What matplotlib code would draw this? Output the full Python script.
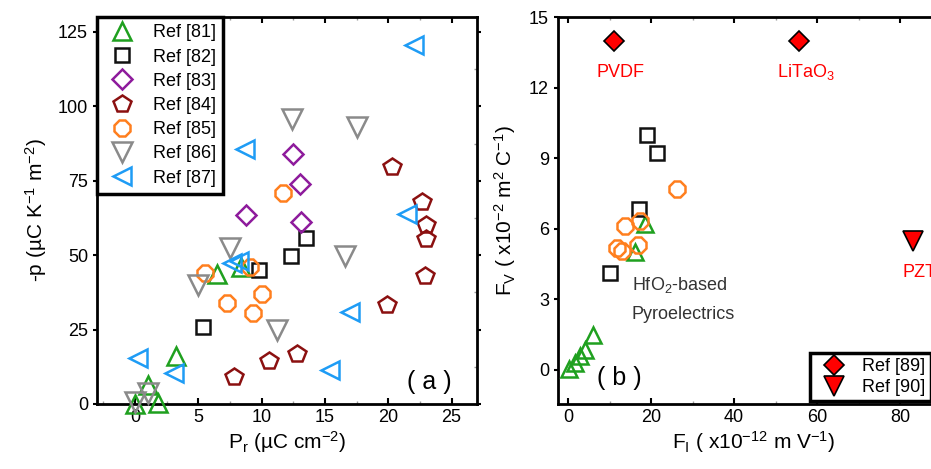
import matplotlib.pyplot as plt
from matplotlib.ticker import AutoMinorLocator

plt.rcParams['font.family'] = ['Liberation Sans', 'DejaVu Sans']
plt.rcParams['mathtext.fontset'] = 'custom'
plt.rcParams['mathtext.rm'] = 'Liberation Sans'
plt.rcParams['mathtext.it'] = 'Liberation Sans:italic'

# panel (a): Pr vs -p for each reference
refLabels = ['Ref [81]', 'Ref [82]', 'Ref [83]', 'Ref [84]', 'Ref [85]', 'Ref [86]', 'Ref [87]']
prRef81 = [0.0, 1.0, 1.8, 3.2, 6.5, 8.4]
pRef81 = [0.0, 6.5, 0.5, 16.0, 43.6, 46.0]
prRef82 = [5.4, 9.8, 12.3, 13.5]
pRef82 = [26.0, 45.0, 49.7, 55.7]
prRef83 = [8.8, 12.5, 13.0, 13.1]
pRef83 = [63.4, 84.0, 73.8, 61.0]
prRef84 = [7.8, 10.6, 12.8, 19.9, 20.3, 22.7, 23.0, 23.0, 22.9]
pRef84 = [9.0, 14.5, 16.8, 33.2, 79.5, 67.8, 60.0, 55.3, 43.0]
prRef85 = [5.5, 7.3, 9.1, 9.3, 10.0, 11.7]
pRef85 = [44.0, 34.0, 46.0, 30.5, 37.0, 71.0]
prRef86 = [0.0, 1.0, 5.0, 7.5, 11.2, 12.4, 16.6, 17.5]
pRef86 = [0.7, 3.7, 40.0, 52.3, 24.8, 95.6, 49.7, 93.0]
prRef87 = [0.2, 3.1, 7.7, 8.2, 8.7, 15.4, 17.0, 21.5, 22.0]
pRef87 = [15.4, 10.4, 47.3, 48.0, 85.6, 11.4, 31.0, 63.8, 120.5]

# panel (b): FI vs FV
fiRef81 = [0.2, 1.8, 3.0, 4.2, 6.0, 16.1, 18.5]
fvRef81 = [0.05, 0.3, 0.6, 0.85, 1.5, 5.0, 6.2]
fiRef82 = [10.1, 17.1, 19.0, 21.4]
fvRef82 = [4.1, 6.85, 10.0, 9.23]
fiRef85 = [11.8, 13.0, 13.7, 16.9, 17.3, 26.3]
fvRef85 = [5.2, 5.05, 6.1, 5.3, 6.34, 7.7]
fiRef89 = [11.1, 55.7]
fvRef89 = [14.0, 14.0]
fiRef90 = [83.1]
fvRef90 = [5.5]
bulkNames = ['PVDF', 'LiTaO$_3$', 'PZT']

MARKERS = ['^', 's', 'D', 'p', '8', 'v', '<']
COLORS = ['#1fa01f', '#111111', '#8e1b9c', '#8b1010', '#ff7f1e', '#8a8a8a', '#1e9cf5']
SIZES = [13, 10, 10.5, 13, 12, 14, 13]

fig = plt.figure(figsize=(9.31, 4.69), dpi=100)
axA = fig.add_axes([0.1042, 0.1386, 0.408, 0.825])
axB = fig.add_axes([0.5994, 0.1386, 0.421, 0.825])

seriesA = [(prRef81, pRef81), (prRef82, pRef82), (prRef83, pRef83), (prRef84, pRef84),
           (prRef85, pRef85), (prRef86, pRef86), (prRef87, pRef87)]
for i, (xs, ys) in enumerate(seriesA):
    axA.plot(xs, ys, linestyle='none', marker=MARKERS[i], markersize=SIZES[i],
             markerfacecolor='none', markeredgecolor=COLORS[i], markeredgewidth=1.8,
             label=refLabels[i], clip_on=False, zorder=3)

axA.set_xlim(-3, 27)
axA.set_ylim(0, 130)
axA.set_xticks(range(0, 26, 5))
axA.set_yticks(range(0, 126, 25))
axA.set_xlabel('P$_\\mathrm{r}$ (µC cm$^{-2}$)', fontsize=15, labelpad=2)
axA.set_ylabel('-p (µC K$^{-1}$ m$^{-2}$)', fontsize=15, labelpad=6)
axA.text(0.876, 0.057, '( a )', transform=axA.transAxes, fontsize=18, ha='center', va='center')
legA = axA.legend(loc='upper left', borderaxespad=0, fontsize=13, handletextpad=0.7,
                  labelspacing=0.4, fancybox=False, framealpha=1, borderpad=0.4)
legA.get_frame().set_edgecolor('black')
legA.get_frame().set_linewidth(2.5)

# panel (b)
axB.plot(fiRef81, fvRef81, linestyle='none', marker='^', markersize=11, markerfacecolor='none',
         markeredgecolor=COLORS[0], markeredgewidth=1.8, clip_on=False, zorder=3)
axB.plot(fiRef82, fvRef82, linestyle='none', marker='s', markersize=10, markerfacecolor='none',
         markeredgecolor=COLORS[1], markeredgewidth=1.8, zorder=3)
axB.plot(fiRef85, fvRef85, linestyle='none', marker='8', markersize=12, markerfacecolor='none',
         markeredgecolor=COLORS[4], markeredgewidth=1.8, zorder=3)
axB.plot(fiRef89, fvRef89, linestyle='none', marker='D', markersize=10, markerfacecolor='#ff0000',
         markeredgecolor='black', markeredgewidth=1.2, label='Ref [89]', zorder=3)
axB.plot(fiRef90, fvRef90, linestyle='none', marker='v', markersize=14, markerfacecolor='#ff0000',
         markeredgecolor='black', markeredgewidth=1.2, label='Ref [90]', zorder=3)

bulkX = fiRef89 + fiRef90
bulkY = fvRef89 + fvRef90
for name, bx, by in zip(bulkNames, bulkX, bulkY):
    axB.text(bx + 1.5, by - 1.35, name, color='#ff0000', fontsize=13, ha='center', va='center')
axB.text(15.4, 3.6, 'HfO$_2$-based', fontsize=13, color='#333333', ha='left', va='center')
axB.text(15.4, 2.35, 'Pyroelectrics', fontsize=13, color='#333333', ha='left', va='center')
axB.text(12.3, -0.35, '( b )', fontsize=18, ha='center', va='center')

axB.set_xlim(-2.4, 92)
axB.set_ylim(-1.45, 15)
axB.set_xticks(range(0, 81, 20))
axB.set_yticks(range(0, 16, 3))
axB.set_xlabel('F$_\\mathrm{I}$ ( x10$^{-12}$ m V$^{-1}$)', fontsize=15, labelpad=2)
axB.set_ylabel('F$_\\mathrm{V}$ ( x10$^{-2}$ m$^2$ C$^{-1}$)', fontsize=15, labelpad=8)
legB = axB.legend(loc='upper left', bbox_to_anchor=(0.643, 0.132), borderaxespad=0, fontsize=13,
                  handletextpad=0.6, labelspacing=0.2, fancybox=False, framealpha=1, borderpad=0.3)
legB.get_frame().set_edgecolor('black')
legB.get_frame().set_linewidth(2.5)

for ax in (axA, axB):
    for spine in ax.spines.values():
        spine.set_linewidth(2)
    ax.xaxis.set_minor_locator(AutoMinorLocator(2))
    ax.yaxis.set_minor_locator(AutoMinorLocator(2))
    ax.tick_params(which='both', direction='in', top=True, right=True, labelsize=13, width=1.5)
    ax.tick_params(which='major', length=4)
    ax.tick_params(which='minor', length=2, width=1, color='#999999')
    ax.tick_params(axis='y', which='major', direction='out', left=True, length=3)
    ax.tick_params(axis='y', which='minor', left=False)

fig.savefig('out.png', dpi=100)
